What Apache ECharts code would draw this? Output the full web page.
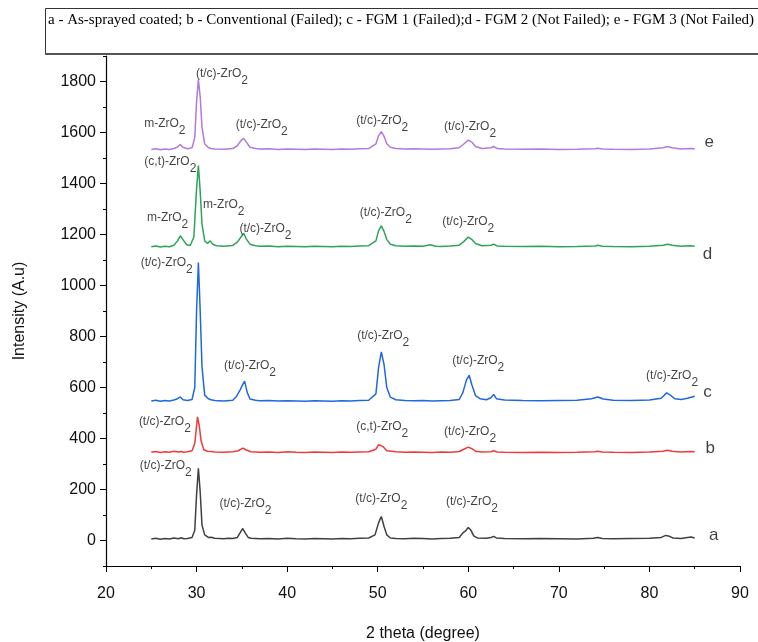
<!DOCTYPE html>
<html><head><meta charset="utf-8">
<script src="https://cdn.jsdelivr.net/npm/echarts@6/dist/echarts.min.js"></script>
<style>html,body{margin:0;padding:0;background:#fff}#c{width:758px;height:642px}</style>
</head><body><div id="c"></div>
<script>
// ---- DATA ----
const seriesNames = ['a','b','c','d','e'];
const legendText = 'a - As-sprayed coated; b - Conventional (Failed); c - FGM 1 (Failed);d - FGM 2 (Not Failed); e - FGM 3 (Not Failed)';
const xTicks = [20,30,40,50,60,70,80,90];
const yTicks = [0,200,400,600,800,1000,1200,1400,1600,1800];

const dataA = [[25,6],[25.5,9],[26,5],[26.5,8],[27,6],[27.5,10],[28,7],[28.3,11],[28.6,7],[29,8],[29.5,12],[29.8,40],[30.0,180],[30.2,283],[30.4,190],[30.6,60],[30.9,22],[31.3,12],[31.6,13],[32,9],[32.5,8],[33,7],[33.5,9],[34,8],[34.5,12],[34.8,30],[35.1,47],[35.4,28],[35.7,12],[36,9],[37,7],[38,8],[39,6],[40,9],[41,7],[42,6],[43,8],[44,7],[45,6],[46,8],[47,7],[48,9],[49,10],[49.7,22],[50.1,70],[50.4,94],[50.7,55],[51,22],[51.4,10],[52,8],[53,7],[54,9],[55,8],[56,6],[57,8],[58,9],[59,12],[59.4,30],[59.7,38],[60,51],[60.3,40],[60.6,18],[61,10],[62,9],[62.5,12],[62.8,16],[63.1,10],[64,8],[66,7],[68,8],[70,7],[72,6],[73.8,9],[74.3,12],[74.8,8],[76,7],[78,8],[80,9],[81.3,12],[81.8,20],[82.1,18],[82.6,10],[83.5,8],[84.2,12],[84.6,14],[85,10]];
const dataB = [[25,346],[25.5,349],[26,345],[26.5,348],[27,346],[27.5,350],[28,347],[28.3,349],[28.6,346],[29,348],[29.5,352],[29.8,380],[30.0,450],[30.1,485],[30.3,450],[30.5,390],[30.8,356],[31.2,350],[31.6,349],[32,347],[33,346],[34,348],[34.6,352],[35.1,362],[35.5,355],[36,348],[37,346],[38,347],[39,345],[40,348],[41,346],[42,345],[43,347],[44,346],[45,345],[46,347],[47,346],[48,347],[49,348],[49.8,358],[50.1,376],[50.3,381],[50.6,368],[51,352],[52,348],[53,346],[54,347],[55,346],[56,345],[57,347],[58,346],[59,349],[59.5,358],[60,366],[60.4,360],[60.8,350],[61.5,347],[62.5,348],[62.8,352],[63.2,347],[64,346],[66,345],[68,346],[70,345],[72,346],[74,348],[74.3,350],[74.8,347],[76,346],[78,345],[80,347],[81.5,350],[82,354],[82.5,350],[83.5,347],[84.5,349],[85,348]];
const dataC = [[25,547],[25.5,550],[26,546],[26.5,549],[27,547],[27.5,551],[27.9,556],[28.2,563],[28.5,552],[29,549],[29.5,553],[29.8,600],[30.0,900],[30.2,1090],[30.4,900],[30.6,680],[30.9,570],[31.3,556],[31.6,552],[32,549],[33,547],[34,550],[34.4,565],[34.8,590],[35.1,612],[35.3,625],[35.6,580],[35.9,555],[36.5,550],[37,548],[38,549],[39,547],[40,548],[41,547],[42,546],[43,548],[44,547],[45,546],[46,548],[47,547],[48,549],[49,550],[49.8,575],[50.1,680],[50.4,740],[50.7,690],[51,600],[51.4,562],[52,552],[53,549],[54,548],[55,549],[56,547],[57,548],[58,549],[59,553],[59.4,580],[59.8,630],[60.1,648],[60.4,610],[60.8,568],[61.3,556],[62,552],[62.5,560],[62.8,573],[63.1,556],[64,551],[66,549],[68,548],[70,549],[72,550],[73.6,556],[74.3,563],[74.9,555],[76,550],[78,549],[80,551],[81.3,558],[81.9,579],[82.3,570],[82.8,556],[83.5,553],[84.2,558],[84.6,562],[85,566]];
const dataD = [[25,1152],[25.5,1155],[26,1151],[26.5,1154],[27,1152],[27.5,1158],[27.9,1175],[28.2,1195],[28.5,1180],[28.9,1160],[29.3,1157],[29.7,1190],[30.0,1380],[30.2,1470],[30.4,1370],[30.6,1240],[30.9,1175],[31.2,1165],[31.5,1175],[31.8,1162],[32.2,1156],[33,1154],[34,1157],[34.5,1170],[34.9,1190],[35.2,1205],[35.5,1182],[35.9,1162],[36.5,1156],[37,1154],[38,1155],[39,1152],[40,1154],[41,1153],[42,1152],[43,1154],[44,1153],[45,1152],[46,1154],[47,1153],[48,1155],[49,1156],[49.8,1175],[50.1,1215],[50.4,1234],[50.7,1212],[51,1180],[51.4,1162],[52,1156],[53,1154],[54,1155],[55,1154],[55.8,1160],[56.4,1154],[57,1153],[58,1155],[59,1158],[59.5,1172],[60,1190],[60.4,1180],[60.8,1165],[61.5,1156],[62.5,1158],[62.8,1162],[63.2,1155],[64,1154],[66,1153],[68,1154],[70,1152],[72,1153],[74,1155],[74.3,1158],[74.8,1154],[76,1153],[78,1152],[80,1154],[81.5,1158],[82,1162],[82.5,1158],[83.5,1154],[84.5,1156],[85,1154]];
const dataE = [[25,1533],[25.5,1536],[26,1532],[26.5,1535],[27,1533],[27.5,1537],[27.9,1543],[28.2,1553],[28.5,1542],[29,1536],[29.5,1540],[29.8,1580],[30.0,1720],[30.2,1808],[30.4,1740],[30.6,1620],[30.9,1555],[31.3,1541],[31.6,1537],[32,1535],[33,1534],[34,1537],[34.5,1548],[34.9,1568],[35.2,1577],[35.5,1562],[35.9,1542],[36.5,1537],[37,1535],[38,1536],[39,1533],[40,1535],[41,1534],[42,1533],[43,1535],[44,1534],[45,1533],[46,1535],[47,1534],[48,1536],[49,1537],[49.8,1555],[50.1,1588],[50.4,1603],[50.7,1585],[51,1556],[51.4,1542],[52,1537],[53,1535],[54,1536],[55,1535],[56,1534],[57,1535],[58,1536],[59,1540],[59.5,1555],[60,1570],[60.4,1562],[60.8,1545],[61.5,1537],[62.5,1540],[62.8,1545],[63.2,1537],[64,1535],[66,1534],[68,1535],[70,1533],[72,1534],[74,1536],[74.3,1538],[74.8,1535],[76,1534],[78,1533],[80,1535],[81.5,1540],[82,1545],[82.5,1540],[83.5,1535],[84.5,1537],[85,1536]];

// peak annotations: [x, y, prefix]
const peakLabels = [
  [26.5,1627,'m-ZrO'],[32.8,1824,'(t/c)-ZrO'],[37.2,1623,'(t/c)-ZrO'],[50.5,1640,'(t/c)-ZrO'],[60.2,1615,'(t/c)-ZrO'],
  [27.1,1478,'(c,t)-ZrO'],[26.8,1258,'m-ZrO'],[33.0,1309,'m-ZrO'],[37.6,1215,'(t/c)-ZrO'],[50.9,1277,'(t/c)-ZrO'],[60.0,1242,'(t/c)-ZrO'],
  [26.7,1081,'(t/c)-ZrO'],[35.9,676,'(t/c)-ZrO'],[50.6,794,'(t/c)-ZrO'],[61.1,696,'(t/c)-ZrO'],[82.5,637,'(t/c)-ZrO'],
  [26.5,460,'(t/c)-ZrO'],[50.5,440,'(c,t)-ZrO'],[60.2,420,'(t/c)-ZrO'],
  [26.6,287,'(t/c)-ZrO'],[35.4,138,'(t/c)-ZrO'],[50.4,157,'(t/c)-ZrO'],[60.4,145,'(t/c)-ZrO']
];
// series end labels: [x, y, text]
const endLabels = [[87.1,22,'a'],[86.7,360,'b'],[86.4,583,'c'],[86.4,1122,'d'],[86.6,1562,'e']];

// ---- CHART ----
const colors = ['#404040','#f03a3a','#1f68e0','#2ea35a','#b07ae0'];
const allData = [dataA,dataB,dataC,dataD,dataE];
const chart = echarts.init(document.getElementById('c'));
const FONT = 'Liberation Sans, Arial, sans-serif';
const series = allData.map((d,i)=>({
  name: seriesNames[i], type:'line', data:d, showSymbol:false, symbol:'none',
  lineStyle:{color:colors[i], width:1.5}, animation:false, z:2
}));
series.push({
  type:'scatter', symbolSize:0, animation:false, z:5,
  data: peakLabels.map(p=>({value:[p[0],p[1]], name:p[2]})),
  label:{show:true, position:'inside', color:'#111', fontFamily:FONT,
    formatter: p=>'{m|'+p.name+'}{s|2}',
    rich:{m:{fontSize:12, fontFamily:FONT, color:'#111', verticalAlign:'top', lineHeight:16},
          s:{fontSize:12, fontFamily:FONT, color:'#111', verticalAlign:'top', lineHeight:16, padding:[7,0,0,0]}}}
});
series.push({
  type:'scatter', symbolSize:0, animation:false, z:5,
  data: endLabels.map(p=>({value:[p[0],p[1]], name:p[2]})),
  label:{show:true, position:'inside', color:'#111', fontFamily:FONT, fontSize:17, formatter:p=>p.name}
});
const minorY = [];
for (let v=-100; v<=1900; v+=200) minorY.push(v);
chart.setOption({
  animation:false,
  backgroundColor:'#fff',
  grid:{left:106, right:18, top:56, bottom:76, outerBoundsMode:'none', containLabel:false},
  xAxis:{type:'value', min:20, max:90, interval:10,
    name:'2 theta (degree)', nameLocation:'middle', nameGap:60,
    nameTextStyle:{fontSize:16, fontFamily:FONT, color:'#111'},
    axisLine:{onZero:false, lineStyle:{color:'#000', width:1.2}},
    axisTick:{length:6, lineStyle:{color:'#000'}},
    minorTick:{show:true, splitNumber:2, length:3, lineStyle:{color:'#000'}},
    axisLabel:{fontSize:16, fontFamily:FONT, color:'#111', margin:20},
    splitLine:{show:false}},
  yAxis:[{type:'value', min:-100, max:1900,
    name:'Intensity (A.u)', nameLocation:'middle', nameGap:78, nameRotate:90,
    nameTextStyle:{fontSize:16, fontFamily:FONT, color:'#111'},
    axisLine:{show:true, onZero:false, lineStyle:{color:'#000', width:1.2}},
    axisTick:{show:true, length:6, customValues:yTicks, lineStyle:{color:'#000'}},
    axisLabel:{fontSize:16, fontFamily:FONT, color:'#111', margin:10, customValues:yTicks, formatter:v=>String(v)},
    splitLine:{show:false}},
   {type:'value', min:-100, max:1900, position:'left',
    axisLine:{show:false, onZero:false},
    axisTick:{show:true, length:3, customValues:minorY, lineStyle:{color:'#000'}},
    axisLabel:{show:false, customValues:minorY},
    splitLine:{show:false}}],
  graphic:[
    {type:'rect', left:45, top:8, shape:{width:740, height:46},
     style:{fill:'#fff', stroke:'#333', lineWidth:1}, z:10},
    {type:'line', shape:{x1:45,y1:54,x2:758,y2:54}, style:{stroke:'#555', lineWidth:2}, z:11},
    {type:'text', left:48, top:13, z:12,
     style:{text:legendText, font:'15px "Liberation Serif", "Times New Roman", serif', fill:'#000'}}
  ],
  series: series
});
</script></body></html>
